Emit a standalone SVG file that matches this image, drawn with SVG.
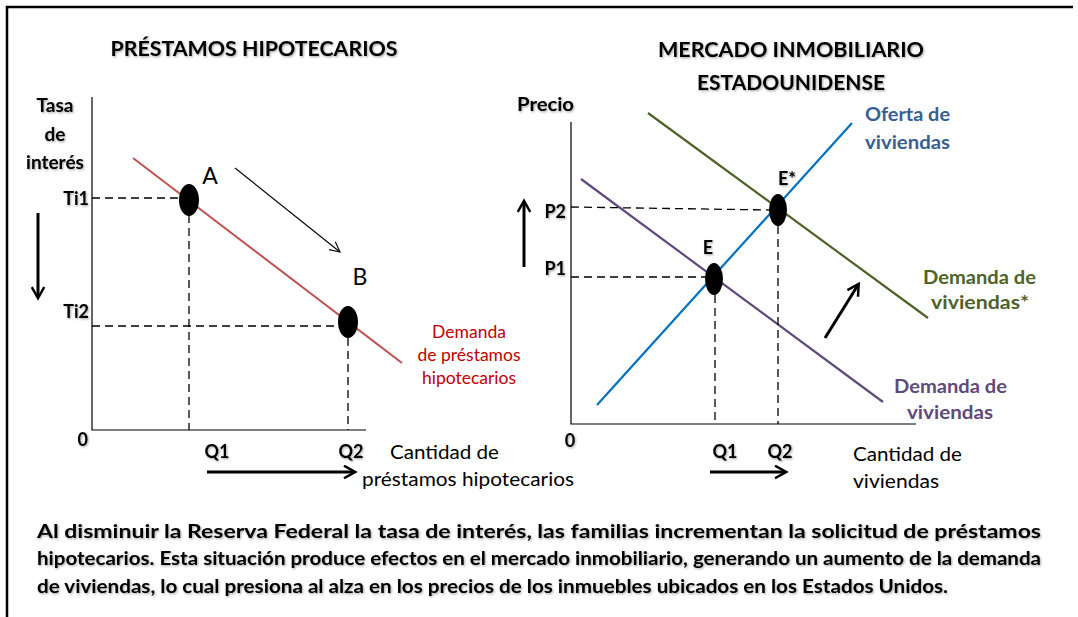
<svg xmlns="http://www.w3.org/2000/svg" width="1078" height="617" viewBox="0 0 1078 617">
<style>
text{font-family:Lato,"Open Sans","Liberation Sans",sans-serif;fill:#000}
.b{font-weight:bold}
.title{font-size:20px;font-weight:bold}
.lab{font-size:18px;font-weight:bold}
.ax{font-size:19px;font-weight:bold}
.pt{font-size:23px}
.cap{font-size:19.5px}
.par{font-size:18px;font-weight:bold}
.col{font-size:19px;font-weight:bold}
.sh{filter:url(#shadow)}
.axis{stroke:#000;stroke-width:1.2;fill:none}
.dash{stroke:#000;stroke-width:1.3;stroke-dasharray:8 5;fill:none}
.big{stroke:#000;stroke-width:3;fill:none}
</style>
<defs>
<filter id="shadow" x="-10%" y="-30%" width="120%" height="160%">
<feDropShadow dx="1" dy="1.2" stdDeviation="0.8" flood-color="#000" flood-opacity="0.35"/>
</filter>
<marker id="headThin" viewBox="0 0 12 12" refX="11" refY="6" markerWidth="12" markerHeight="12" markerUnits="userSpaceOnUse" orient="auto">
<path d="M1,1 L11,6 L1,11" fill="none" stroke="#000" stroke-width="1.1"/>
</marker>
<marker id="headBig" viewBox="0 0 12 12" refX="9" refY="6" markerWidth="5" markerHeight="5" orient="auto">
<path d="M1,1 L10,6 L1,11" fill="none" stroke="#000" stroke-width="2"/>
</marker>
</defs>

<rect width="1078" height="617" fill="#fff"/>
<path d="M7,617 V7 H1073" fill="none" stroke="#000" stroke-width="2.5"/>

<!-- LEFT CHART -->
<g id="left-title"><text class="title sh" x="254" y="56" text-anchor="middle" textLength="287" lengthAdjust="spacingAndGlyphs">PRÉSTAMOS HIPOTECARIOS</text></g>
<g id="left-ylabel" class="sh">
<text class="ax" x="55" y="112" text-anchor="middle">Tasa</text>
<text class="ax" x="55" y="141" text-anchor="middle">de</text>
<text class="ax" x="55" y="169" text-anchor="middle">interés</text>
</g>
<g id="left-axes">
<path class="axis" d="M92,97 V430 H366"/>
<text class="lab sh" x="88" y="446" text-anchor="end">0</text>
</g>
<g id="left-ticks" class="sh">
<text class="lab" x="89" y="205" text-anchor="end">Ti1</text>
<text class="lab" x="89" y="318" text-anchor="end">Ti2</text>
<text class="lab" x="217" y="458" text-anchor="middle">Q1</text>
<text class="lab" x="351" y="458" text-anchor="middle">Q2</text>
</g>
<g id="left-demand">
<line x1="133" y1="158" x2="402" y2="363" stroke="#C0504D" stroke-width="2"/>
<g font-size="17.5" text-anchor="middle">
<text x="469" y="338" style="fill:#C00000">Demanda</text>
<text x="469" y="361" style="fill:#C00000">de préstamos</text>
<text x="469" y="384" style="fill:#C00000">hipotecarios</text>
</g>
</g>
<g id="point-A">
<ellipse cx="189" cy="200" rx="10" ry="16" fill="#000"/>
<text class="pt" x="210" y="184" text-anchor="middle">A</text>
</g>
<g id="point-B">
<ellipse cx="348" cy="322" rx="10" ry="16" fill="#000"/>
<text class="pt" x="360" y="285" text-anchor="middle">B</text>
</g>
<g id="left-xlabel">
<text class="cap" x="390" y="459" textLength="109" lengthAdjust="spacingAndGlyphs">Cantidad de</text>
<text class="cap" x="362" y="486" textLength="212" lengthAdjust="spacingAndGlyphs">préstamos hipotecarios</text>
</g>

<!-- RIGHT CHART -->
<g id="right-title" class="sh">
<text class="title" x="791" y="57" text-anchor="middle" textLength="266" lengthAdjust="spacingAndGlyphs">MERCADO INMOBILIARIO</text>
<text class="title" x="791" y="90" text-anchor="middle" textLength="188" lengthAdjust="spacingAndGlyphs">ESTADOUNIDENSE</text>
</g>
<g id="right-ylabel"><text class="ax sh" x="517" y="111" textLength="57" lengthAdjust="spacingAndGlyphs">Precio</text></g>
<g id="right-axes">
<path class="axis" d="M571,122 V424 H916"/>
<text class="lab sh" x="570" y="447" text-anchor="middle">0</text>
</g>
<g id="right-ticks" class="sh">
<text class="lab" x="566" y="218" text-anchor="end">P2</text>
<text class="lab" x="566" y="275" text-anchor="end">P1</text>
<text class="lab" x="725" y="458" text-anchor="middle">Q1</text>
<text class="lab" x="780" y="458" text-anchor="middle">Q2</text>
</g>
<g id="supply">
<line x1="597" y1="405" x2="852" y2="123" stroke="#0070C0" stroke-width="2.2"/>
<text class="col" x="865" y="121" textLength="85" lengthAdjust="spacingAndGlyphs" style="fill:#376092">Oferta de</text>
<text class="col" x="865" y="149" textLength="85" lengthAdjust="spacingAndGlyphs" style="fill:#376092">viviendas</text>
</g>
<g id="demand">
<line x1="581" y1="179" x2="883" y2="402" stroke="#604A7B" stroke-width="2.2"/>
<text class="col" x="894" y="393" textLength="113" lengthAdjust="spacingAndGlyphs" style="fill:#604A7B">Demanda de</text>
<text class="col" x="907" y="419" textLength="86" lengthAdjust="spacingAndGlyphs" style="fill:#604A7B">viviendas</text>
</g>
<g id="demand-star">
<line x1="648" y1="113" x2="928" y2="318" stroke="#4F6228" stroke-width="2.2"/>
<text class="col" x="923" y="284" textLength="113" lengthAdjust="spacingAndGlyphs" style="fill:#4F6228">Demanda de</text>
<text class="col" x="931" y="309" textLength="98" lengthAdjust="spacingAndGlyphs" style="fill:#4F6228">viviendas*</text>
</g>
<g id="point-E">
<ellipse cx="714" cy="279" rx="9" ry="16" fill="#000"/>
<text class="lab sh" x="708" y="254" text-anchor="middle">E</text>
</g>
<g id="point-Estar">
<ellipse cx="778" cy="210" rx="9" ry="16" fill="#000"/>
<text class="lab sh" x="787" y="185" text-anchor="middle">E*</text>
</g>
<g id="right-xlabel">
<text class="cap" x="853" y="461" textLength="109" lengthAdjust="spacingAndGlyphs">Cantidad de</text>
<text class="cap" x="853" y="488" textLength="86" lengthAdjust="spacingAndGlyphs">viviendas</text>
</g>

<!-- CONNECTORS -->
<g id="connectors">
<path class="dash" d="M92,198 H183"/>
<path class="dash" d="M189,215 V430"/>
<path class="dash" d="M92,326 H340"/>
<path class="dash" d="M348,338 V430"/>
<path class="dash" d="M571,207 L770,210"/>
<path class="dash" d="M571,277 H706"/>
<path class="dash" d="M715,295 V424"/>
<path class="dash" d="M778,226 V424"/>
<line x1="235" y1="168" x2="340" y2="252" stroke="#000" stroke-width="1.1" marker-end="url(#headThin)"/>
<line class="big" x1="38" y1="213" x2="38" y2="297" marker-end="url(#headBig)"/>
<line class="big" x1="207" y1="472" x2="354" y2="472" marker-end="url(#headBig)"/>
<line class="big" x1="524" y1="267" x2="524" y2="202" marker-end="url(#headBig)"/>
<line class="big" x1="710" y1="472" x2="785" y2="472" marker-end="url(#headBig)"/>
<line class="big" x1="825" y1="338" x2="858" y2="285" marker-end="url(#headBig)"/>
</g>

<!-- PARAGRAPH -->
<g id="caption" class="sh">
<text class="par" x="37" y="538" textLength="1004" lengthAdjust="spacingAndGlyphs">Al disminuir la Reserva Federal la tasa de interés, las familias incrementan la solicitud de préstamos</text>
<text class="par" x="37" y="565" textLength="1004" lengthAdjust="spacingAndGlyphs">hipotecarios. Esta situación produce efectos en el mercado inmobiliario, generando un aumento de la demanda</text>
<text class="par" x="37" y="593" textLength="911" lengthAdjust="spacingAndGlyphs">de viviendas, lo cual presiona al alza en los precios de los inmuebles ubicados en los Estados Unidos.</text>
</g>
</svg>
